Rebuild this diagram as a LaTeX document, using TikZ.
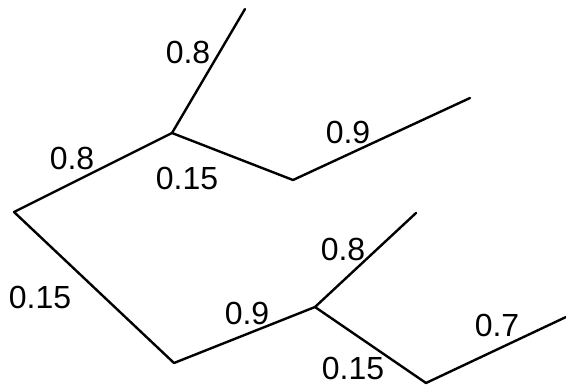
\documentclass[tikz,border=0pt]{standalone}
\usepackage{fontspec}
\setmainfont{Liberation Sans}
\usetikzlibrary{calc}

\begin{document}
\begin{tikzpicture}[
  x=1pt,y=-1pt,
  line cap=round,
  line join=round,
  branch/.style={draw=black,line width=2.4pt},
  wt/.style={font=\fontsize{32}{35}\selectfont,inner sep=0pt}
]
\useasboundingbox (0,0) rectangle (566,386);

% tree vertices
\coordinate (root) at (14,212);
\coordinate (up)   at (172,133);
\coordinate (upL)  at (245,9);
\coordinate (upR)  at (293,180);
\coordinate (upRL) at (470,98);
\coordinate (lo)   at (174,363);
\coordinate (loR)  at (315,307);
\coordinate (loRL) at (416,213);
\coordinate (loRR) at (426,383);
\coordinate (loRRL) at (566,317);

% branches
\draw[branch] (root) -- (up);
\draw[branch] (up) -- (upL);
\draw[branch] (up) -- (upR) -- (upRL);
\draw[branch] (root) -- (lo) -- (loR);
\draw[branch] (loR) -- (loRL);
\draw[branch] (loR) -- (loRR) -- (loRRL);

% weights
\node[wt] (w1) at (188,52)  {0.8};
\node[wt] (w2) at (72,158)  {0.8};
\node[wt] (w3) at (187,178) {0.15};
\node[wt] (w4) at (348,132) {0.9};
\node[wt] (w5) at (40,297)  {0.15};
\node[wt] (w6) at (247,313) {0.9};
\node[wt] (w7) at (343,249) {0.8};
\node[wt] (w8) at (353,368) {0.15};
\node[wt] (w9) at (497,325) {0.7};

\end{tikzpicture}
\end{document}
